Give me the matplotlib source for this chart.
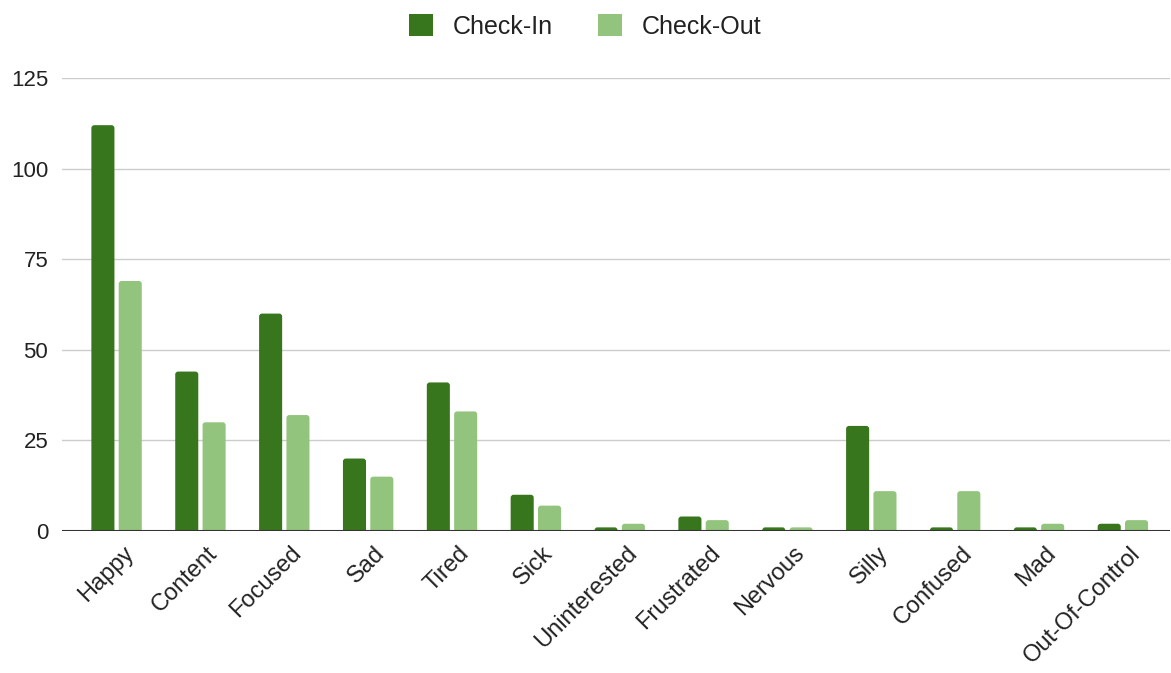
import numpy as np
import matplotlib.pyplot as plt
from matplotlib.patches import FancyBboxPatch, Patch
from matplotlib.transforms import ScaledTranslation

plt.rcParams['font.family'] = ['Liberation Sans', 'DejaVu Sans']

moods = ['Happy', 'Content', 'Focused', 'Sad', 'Tired', 'Sick', 'Uninterested',
         'Frustrated', 'Nervous', 'Silly', 'Confused', 'Mad', 'Out-Of-Control']
check_in = [112, 44, 60, 20, 41, 10, 1, 4, 1, 29, 1, 1, 2]
check_out = [69, 30, 32, 15, 33, 7, 2, 3, 1, 11, 11, 2, 3]

c_in = '#38761d'
c_out = '#93c47d'

fig = plt.figure(figsize=(11.71, 6.73), dpi=100)
ax = fig.add_axes([0.053, 0.211, 0.946, 0.673])

x = np.arange(len(moods))
w = 0.275
bars_in = ax.bar(x - 0.163, check_in, w, color=c_in, zorder=3)
bars_out = ax.bar(x + 0.163, check_out, w, color=c_out, zorder=3)

ax.set_ylim(0, 125)
ax.set_xlim(-0.65, 12.56)

# swap plain rectangles for ones with slightly rounded tops
rx = 0.035
ry = 0.8
for cont in (bars_in, bars_out):
    for r in cont.patches:
        bx, bw, bh = r.get_x(), r.get_width(), r.get_height()
        fb = FancyBboxPatch((bx, -ry), bw, bh + ry,
                            boxstyle='round,pad=0,rounding_size=%s' % rx,
                            mutation_aspect=ry / rx,
                            facecolor=r.get_facecolor(), edgecolor='none', zorder=3)
        r.set_visible(False)
        ax.add_patch(fb)

ax.set_yticks([0, 25, 50, 75, 100, 125])
ax.yaxis.grid(True, color='#cccccc', linewidth=1, zorder=0)
ax.axhline(0, color='#333333', linewidth=1.5, zorder=4)
for s in ax.spines.values():
    s.set_visible(False)
ax.tick_params(axis='both', length=0, colors='#222222')
ax.tick_params(axis='y', pad=10, labelsize=16)
ax.tick_params(axis='x', pad=8, labelsize=17)
ax.set_xticks(x)
ax.set_xticklabels(moods, rotation=45, ha='right', rotation_mode='anchor')
shift = ScaledTranslation(6 / 100, 0, fig.dpi_scale_trans)
for lbl in ax.get_xticklabels():
    lbl.set_transform(lbl.get_transform() + shift)

handles = [Patch(facecolor=c_in, label='Check-In'),
           Patch(facecolor=c_out, label='Check-Out')]
fig.legend(handles=handles, loc='upper center', bbox_to_anchor=(0.5, 1.012), ncol=2,
           frameon=False, fontsize=18, handlelength=0.95, handleheight=0.95,
           columnspacing=1.8, handletextpad=0.8, labelcolor='#222222')

fig.savefig('out.png', dpi=100)
